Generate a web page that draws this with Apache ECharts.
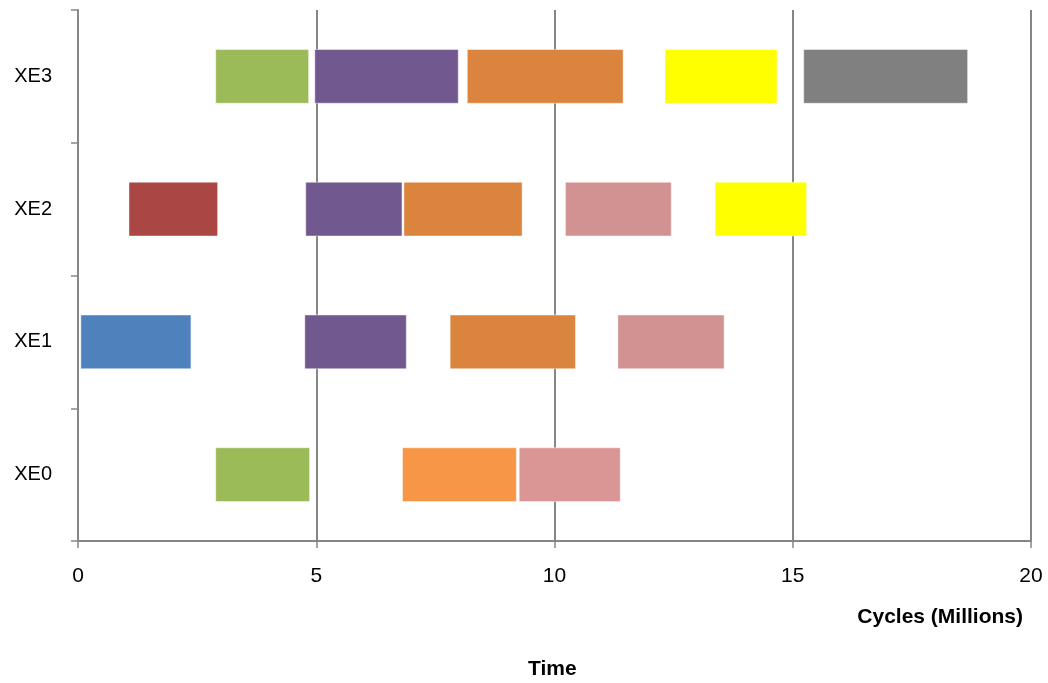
<!DOCTYPE html>
<html>
<head>
<meta charset="utf-8">
<script src="https://cdn.jsdelivr.net/npm/echarts@6/dist/echarts.min.js"></script>
<style>html,body{margin:0;padding:0;background:#fff;}#c{width:1048px;height:683px;}</style>
</head>
<body>
<div id="c"></div>
<script>
// Categories (bottom to top)
const categories = ['XE0', 'XE1', 'XE2', 'XE3'];
// X-axis tick values
const xTicks = [0, 5, 10, 15, 20];

// Segments per processor: start, end (millions of cycles) and task kind
const xe0Start = [2.89, 6.81, 9.26];
const xe0End   = [4.86, 9.20, 11.38];
const xe0Kind  = ['green', 'lightOrange', 'pinkLight'];

const xe1Start = [0.06, 4.76, 7.81, 11.33];
const xe1End   = [2.37, 6.89, 10.44, 13.56];
const xe1Kind  = ['blue', 'purple', 'orange', 'pink'];

const xe2Start = [1.07, 4.78, 6.84, 10.23, 13.37];
const xe2End   = [2.93, 6.80, 9.32, 12.45, 15.29];
const xe2Kind  = ['red', 'purple', 'orange', 'pink', 'yellow'];

const xe3Start = [2.89, 4.97, 8.17, 12.32, 15.23];
const xe3End   = [4.84, 7.98, 11.44, 14.67, 18.67];
const xe3Kind  = ['green', 'purple', 'orange', 'yellow', 'gray'];

const kindColor = {
  blue: '#4F81BD', red: '#AA4643', green: '#9BBB59', purple: '#71588F',
  orange: '#DB843D', lightOrange: '#F79646', pink: '#D39292', pinkLight: '#DA9694',
  yellow: '#FFFF00', gray: '#808080'
};

const rows = [
  [xe0Start, xe0End, xe0Kind],
  [xe1Start, xe1End, xe1Kind],
  [xe2Start, xe2End, xe2Kind],
  [xe3Start, xe3End, xe3Kind]
];
const data = [];
rows.forEach(function (r, ci) {
  r[0].forEach(function (s, i) {
    data.push({ value: [ci, s, r[1][i]], itemStyle: { color: kindColor[r[2][i]] } });
  });
});

const FONT = '"Liberation Sans", Arial, sans-serif';
const chart = echarts.init(document.getElementById('c'), null, { renderer: 'canvas' });
chart.setOption({
  animation: false,
  backgroundColor: '#ffffff',
  grid: { left: 78, right: 17, top: 10, bottom: 142 },
  xAxis: {
    type: 'value', min: 0, max: 20, interval: 5,
    axisLine: { show: true, onZero: false, lineStyle: { color: '#868686', width: 2 } },
    axisTick: { show: true, length: 7, lineStyle: { color: '#868686', width: 1.5 } },
    axisLabel: { color: '#000', fontSize: 21, fontFamily: FONT, margin: 25,
      formatter: function (v) { return xTicks.indexOf(v) >= 0 ? String(v) : ''; } },
    splitLine: { show: true, lineStyle: { color: '#868686', width: 2 } }
  },
  yAxis: {
    type: 'category', data: categories,
    axisLine: { show: true, lineStyle: { color: '#868686', width: 2 } },
    axisTick: { show: true, length: 7, inside: false, lineStyle: { color: '#868686', width: 1.5 } },
    axisLabel: { color: '#000', fontSize: 20, fontFamily: FONT, margin: 26 },
    splitLine: { show: false }
  },
  series: [{
    type: 'custom',
    encode: { x: [1, 2], y: 0 },
    data: data,
    renderItem: function (params, api) {
      const cat = api.value(0);
      const s = api.coord([api.value(1), cat]);
      const e = api.coord([api.value(2), cat]);
      const h = api.size([0, 1])[1] * 0.405;
      return {
        type: 'rect',
        shape: { x: s[0], y: s[1] - h / 2, width: e[0] - s[0], height: h },
        style: { fill: api.visual('color'), stroke: 'rgba(255,255,255,0.45)', lineWidth: 1 }
      };
    }
  }],
  graphic: [
    { type: 'text', right: 25, top: 607,
      style: { text: 'Cycles (Millions)', font: 'bold 21px ' + FONT, fill: '#000' } },
    { type: 'text', left: 528, top: 659,
      style: { text: 'Time', font: 'bold 21px ' + FONT, fill: '#000' } }
  ]
});
</script>
</body>
</html>
